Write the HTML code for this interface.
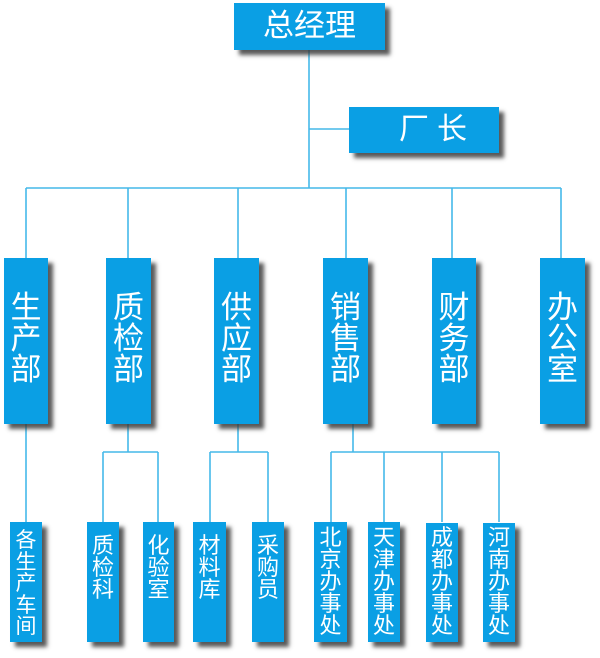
<!DOCTYPE html>
<html><head><meta charset="utf-8">
<style>
html,body{margin:0;padding:0;background:#fff;}
body{width:600px;height:658px;position:relative;overflow:hidden;font-family:"Liberation Sans","Noto Sans CJK SC",sans-serif;}
.b{position:absolute;background:#0a9fe4;box-shadow:5px 5px 4px rgba(60,60,60,0.85);color:#fff;}
.t{position:absolute;left:0;right:0;text-align:center;color:#fff;}
.v{display:flex;flex-direction:column;align-items:center;}
.v span{display:block;}
svg{position:absolute;left:0;top:0;}
</style></head><body>
<svg width="600" height="658">
<g stroke="#45b9e9" stroke-width="1.6" fill="none">
<line x1="309" y1="50" x2="309" y2="188"/>
<line x1="309" y1="129" x2="349" y2="129"/>
<line x1="26" y1="188" x2="561" y2="188"/>
<line x1="26" y1="188" x2="26" y2="258"/>
<line x1="128" y1="188" x2="128" y2="258"/>
<line x1="238" y1="188" x2="238" y2="258"/>
<line x1="346" y1="188" x2="346" y2="258"/>
<line x1="452" y1="188" x2="452" y2="258"/>
<line x1="561" y1="188" x2="561" y2="258"/>
<line x1="26" y1="424" x2="26" y2="522"/>
<line x1="128" y1="424" x2="128" y2="452"/>
<line x1="103" y1="452" x2="158" y2="452"/>
<line x1="103" y1="452" x2="103" y2="522"/>
<line x1="158" y1="452" x2="158" y2="522"/>
<line x1="238" y1="424" x2="238" y2="452"/>
<line x1="210" y1="452" x2="268" y2="452"/>
<line x1="210" y1="452" x2="210" y2="522"/>
<line x1="268" y1="452" x2="268" y2="522"/>
<line x1="353" y1="424" x2="353" y2="452"/>
<line x1="331" y1="452" x2="499" y2="452"/>
<line x1="331" y1="452" x2="331" y2="522"/>
<line x1="384" y1="452" x2="384" y2="522"/>
<line x1="442" y1="452" x2="442" y2="522"/>
<line x1="499" y1="452" x2="499" y2="522"/>
</g>
</svg>

<div class="b" style="left:234px;top:3px;width:151px;height:47px;">
  <div class="t" style="top:6px;font-size:31px;line-height:34px;">总经理</div>
</div>
<div class="b" style="left:349px;top:107px;width:150px;height:46px;">
  <div style="position:absolute;left:50px;top:6px;font-size:30px;line-height:34px;letter-spacing:8px;color:#fff;">厂长</div>
</div>

<!-- departments -->
<div class="b" style="left:4px;top:258px;width:44px;height:166px;">
  <div class="t v" style="top:34px;font-size:31px;line-height:31px;"><span>生</span><span>产</span><span>部</span></div>
</div>
<div class="b" style="left:106px;top:258px;width:45px;height:166px;">
  <div class="t v" style="top:34px;font-size:31px;line-height:31px;"><span>质</span><span>检</span><span>部</span></div>
</div>
<div class="b" style="left:214px;top:258px;width:45px;height:166px;">
  <div class="t v" style="top:34px;font-size:31px;line-height:31px;"><span>供</span><span>应</span><span>部</span></div>
</div>
<div class="b" style="left:323px;top:258px;width:45px;height:166px;">
  <div class="t v" style="top:34px;font-size:31px;line-height:31px;"><span>销</span><span>售</span><span>部</span></div>
</div>
<div class="b" style="left:432px;top:258px;width:44px;height:166px;">
  <div class="t v" style="top:34px;font-size:31px;line-height:31px;"><span>财</span><span>务</span><span>部</span></div>
</div>
<div class="b" style="left:540px;top:258px;width:45px;height:166px;">
  <div class="t v" style="top:34px;font-size:31px;line-height:31px;"><span>办</span><span>公</span><span>室</span></div>
</div>

<!-- sub units -->
<div class="b" style="left:10px;top:522px;width:32px;height:120px;">
  <div class="t v" style="top:8px;font-size:21px;line-height:21.5px;"><span>各</span><span>生</span><span>产</span><span>车</span><span>间</span></div>
</div>
<div class="b" style="left:87px;top:522px;width:32px;height:120px;">
  <div class="t v" style="top:13px;font-size:22px;line-height:22px;"><span>质</span><span>检</span><span>科</span></div>
</div>
<div class="b" style="left:143px;top:522px;width:31px;height:120px;">
  <div class="t v" style="top:13px;font-size:22px;line-height:22px;"><span>化</span><span>验</span><span>室</span></div>
</div>
<div class="b" style="left:193px;top:522px;width:33px;height:120px;">
  <div class="t v" style="top:13px;font-size:22px;line-height:22px;"><span>材</span><span>料</span><span>库</span></div>
</div>
<div class="b" style="left:252px;top:522px;width:32px;height:120px;">
  <div class="t v" style="top:13px;font-size:22px;line-height:22px;"><span>采</span><span>购</span><span>员</span></div>
</div>
<div class="b" style="left:314px;top:522px;width:33px;height:120px;">
  <div class="t v" style="top:5px;font-size:22px;line-height:22px;"><span>北</span><span>京</span><span>办</span><span>事</span><span>处</span></div>
</div>
<div class="b" style="left:368px;top:522px;width:32px;height:120px;">
  <div class="t v" style="top:5px;font-size:22px;line-height:22px;"><span>天</span><span>津</span><span>办</span><span>事</span><span>处</span></div>
</div>
<div class="b" style="left:426px;top:523px;width:32px;height:119px;">
  <div class="t v" style="top:4px;font-size:22px;line-height:22px;"><span>成</span><span>都</span><span>办</span><span>事</span><span>处</span></div>
</div>
<div class="b" style="left:483px;top:523px;width:32px;height:119px;">
  <div class="t v" style="top:4px;font-size:22px;line-height:22px;"><span>河</span><span>南</span><span>办</span><span>事</span><span>处</span></div>
</div>
</body></html>
